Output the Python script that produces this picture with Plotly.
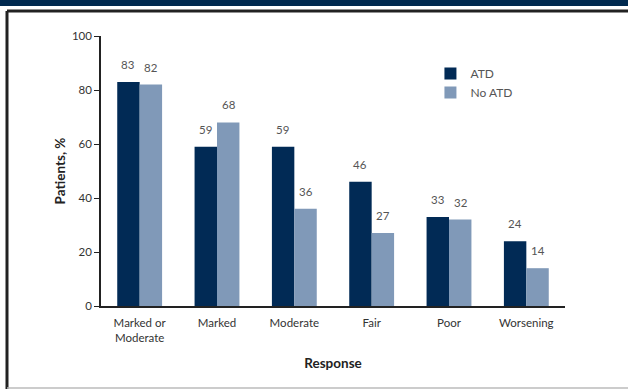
import plotly.graph_objects as go

categories = ["Marked or<br>Moderate", "Marked", "Moderate", "Fair", "Poor", "Worsening"]
atd = [83, 59, 59, 46, 33, 24]
no_atd = [82, 68, 36, 27, 32, 14]

FONT = "Lato, Open Sans, sans-serif"
NAVY = "#012A55"
LIGHT = "#8099B8"

fig = go.Figure()
fig.add_bar(x=categories, y=atd, name="ATD", marker_color=NAVY, marker_line_width=0)
fig.add_bar(x=categories, y=no_atd, name="No ATD", marker_color=LIGHT, marker_line_width=0)

# value labels above bars
for series, shift in ((atd, -11.5), (no_atd, 11.5)):
    for cat, val in zip(categories, series):
        fig.add_annotation(x=cat, y=val, text=str(val), showarrow=False,
                           xshift=shift, yshift=9, yanchor="bottom",
                           font=dict(size=11.5, color="#555555", family=FONT))

fig.update_layout(
    width=628, height=389,
    margin=dict(l=101, r=63, t=36, b=83),
    paper_bgcolor="white", plot_bgcolor="white",
    barmode="group", bargap=0.42, bargroupgap=0,
    font=dict(family=FONT, color="#333333", size=11.5),
    showlegend=True,
    legend=dict(x=0.71, y=0.915, xanchor="left", yanchor="top",
                font=dict(size=12, color="#555555"), tracegroupgap=0,
                itemwidth=30, bgcolor="rgba(0,0,0,0)"),
)
fig.update_yaxes(range=[0, 100], dtick=20, showgrid=False, zeroline=False,
                 showline=True, linecolor="#222222", linewidth=1.5,
                 ticks="outside", ticklen=5, tickcolor="#222222",
                 tickfont=dict(size=11.5, color="#333333"),
                 title=dict(text="<b>Patients, %</b>", font=dict(size=13.5, color="#222222"),
                            standoff=3))
fig.update_xaxes(showgrid=False, showline=True, linecolor="#222222", linewidth=1.5,
                 ticks="", tickfont=dict(size=11.5, color="#333333"), ticklabelstandoff=5,
                 title=dict(text="<b>Response</b>", font=dict(size=13.5, color="#222222"),
                            standoff=16))

# page frame: navy header band, dark top and left rules, light bottom rule
fig.add_shape(type="rect", xref="paper", yref="paper", x0=-0.25, x1=1.2,
              y0=1.111, y1=1.14, fillcolor="#00294F", line_width=0, layer="below")
fig.add_shape(type="line", xref="paper", yref="paper", x0=-0.2026, x1=1.2,
              y0=1.0925, y1=1.0925, line=dict(color="#222222", width=3))
fig.add_shape(type="line", xref="paper", yref="paper", x0=-0.2026, x1=-0.2026,
              y0=1.0925, y1=-0.31, line=dict(color="#222222", width=3))
fig.add_shape(type="line", xref="paper", yref="paper", x0=-0.2026, x1=1.2,
              y0=-0.3037, y1=-0.3037, line=dict(color="#BBBBBB", width=1.5))

fig.write_html("out.html", config={"displayModeBar": False},
               post_script="document.body.style.margin='0';")
